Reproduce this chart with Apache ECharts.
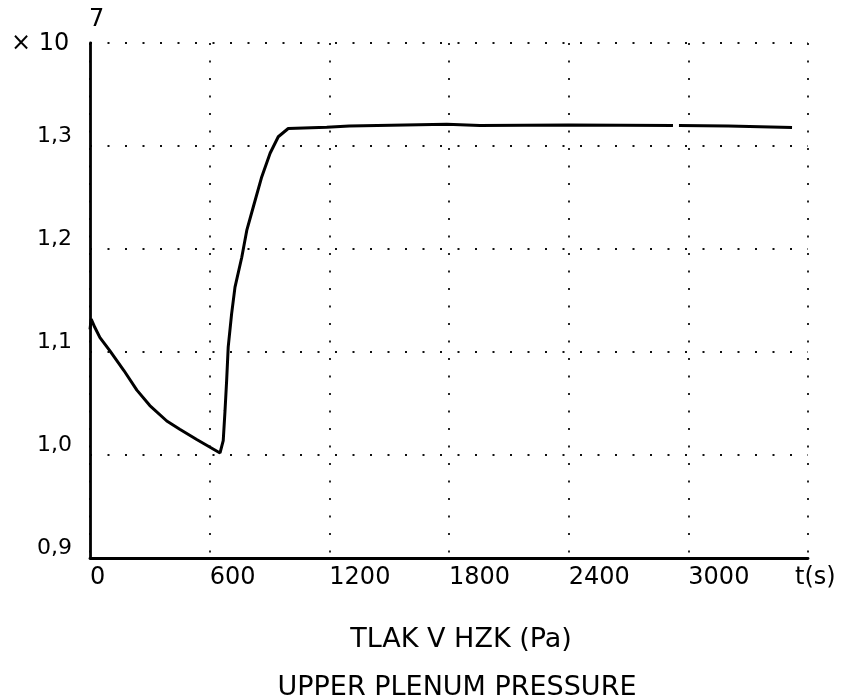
<!DOCTYPE html>
<html>
<head>
<meta charset="utf-8">
<script src="https://cdn.jsdelivr.net/npm/echarts@6/dist/echarts.min.js"></script>
<style>
html,body{margin:0;padding:0;background:#fff;}
#chart{width:860px;height:696px;}
</style>
</head>
<body>
<div id="chart"></div>
<script>
// time (s)
var timeValues = [0, 6, 14, 24, 50, 100, 170, 235, 300, 385, 450, 535, 652, 668, 677, 685, 693, 710, 727, 761, 786, 819, 861, 903, 944, 994, 1187, 1300, 1789, 1955, 2400, 2923, 2938, 2953, 3200, 3520];
// pressure (x 10^7 Pa)
var pressureValues = [1.122, 1.132, 1.133, 1.124, 1.114, 1.101, 1.082, 1.063, 1.048, 1.033, 1.025, 1.015, 1.002, 1.014, 1.043, 1.072, 1.105, 1.137, 1.163, 1.192, 1.218, 1.241, 1.270, 1.293, 1.309, 1.317, 1.3182, 1.3195, 1.321, 1.320, 1.3205, 1.320, null, 1.320, 1.3195, 1.318];
var xTickLabels = ['0', '600', '1200', '1800', '2400', '3000'];
var yTickLabels = ['0,9', '1,0', '1,1', '1,2', '1,3'];
var xAxisName = 't(s)';
var titleLine1 = 'TLAK V HZK (Pa)';
var titleLine2 = 'UPPER PLENUM PRESSURE';
var scaleText = '\u00d7 10';
var scaleExp = '7';

var data = timeValues.map(function (t, i) { return [t, pressureValues[i]]; });
var FONT = 'DejaVu Sans';
var chart = echarts.init(document.getElementById('chart'), null, {renderer: 'canvas'});
var dotted = {color: '#111', width: 1.8, type: [2, 15.5]};

chart.setOption({
  backgroundColor: '#fff',
  animation: false,
  title: [
    {text: titleLine1, left: 456, top: 621, textAlign: 'center',
     textStyle: {fontFamily: FONT, fontSize: 27, fontWeight: 'normal', color: '#000'}},
    {text: titleLine2, left: 452, top: 669, textAlign: 'center',
     textStyle: {fontFamily: FONT, fontSize: 27, fontWeight: 'normal', color: '#000'}}
  ],
  grid: {left: 90, right: 52, top: 43, bottom: 138, containLabel: false},
  xAxis: {
    type: 'value', min: 0, max: 3600, interval: 600,
    name: xAxisName, nameLocation: 'end', nameGap: -13,
    nameTextStyle: {fontFamily: FONT, fontSize: 24, color: '#000', align: 'left', verticalAlign: 'top', padding: [8, 0, 0, 0]},
    axisLine: {show: true, lineStyle: {color: '#000', width: 2.8}},
    axisTick: {show: false},
    axisLabel: {
      fontFamily: FONT, fontSize: 24, color: '#000', align: 'left', margin: 8,
      showMaxLabel: false,
      formatter: function (v) { var i = Math.round(v / 600); return i < xTickLabels.length ? xTickLabels[i] : ''; }
    },
    splitLine: {show: true, lineStyle: dotted}
  },
  yAxis: {
    type: 'value', min: 0.9, max: 1.4, interval: 0.1,
    axisLine: {show: true, lineStyle: {color: '#000', width: 2.8}},
    axisTick: {show: false},
    axisLabel: {
      fontFamily: FONT, fontSize: 22, color: '#000', margin: 18, verticalAlign: 'bottom', lineHeight: 20,
      formatter: function (v) { var i = Math.round((v - 0.9) * 10); return i < yTickLabels.length ? yTickLabels[i] : ''; }
    },
    splitLine: {show: true, lineStyle: dotted}
  },
  graphic: [
    {type: 'text', left: 11, top: 32, style: {text: scaleText, fontFamily: FONT, fontSize: 24, fill: '#000'}},
    {type: 'text', left: 89, top: 8, style: {text: scaleExp, fontFamily: FONT, fontSize: 24, fill: '#000'}}
  ],
  series: [{
    type: 'line', data: data, showSymbol: false, connectNulls: false,
    lineStyle: {color: '#000', width: 3}, z: 5
  }]
});
</script>
</body>
</html>
